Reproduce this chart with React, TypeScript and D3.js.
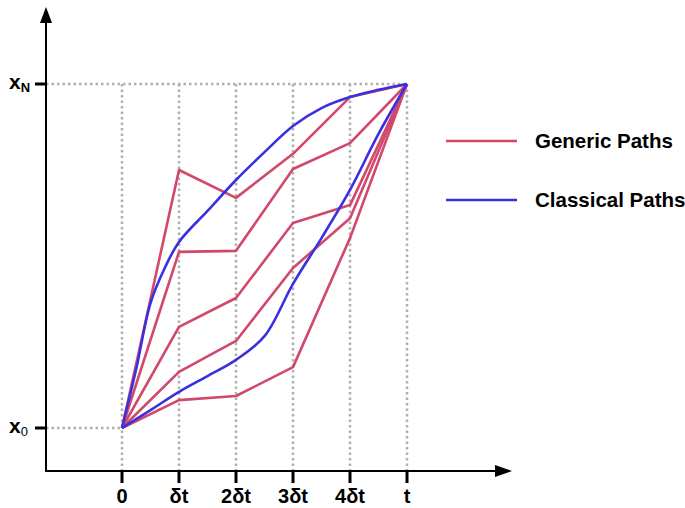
import React from "react";
import * as d3 from "d3";

// Time steps along the horizontal axis (in units of δt)
const steps = [0, 1, 2, 3, 4, 5];
const stepLabels = ["0", "δt", "2δt", "3δt", "4δt", "t"];

// Generic paths: normalised position between x0 (0) and xN (1) at each time step
const genericA = [0, 0.75, 0.669, 0.797, 0.962, 1];
const genericB = [0, 0.512, 0.515, 0.753, 0.828, 1];
const genericC = [0, 0.294, 0.378, 0.596, 0.648, 1];
const genericD = [0, 0.163, 0.253, 0.465, 0.61, 1];
const genericE = [0, 0.081, 0.093, 0.177, 0.552, 1];

// Classical paths are smooth, so they are sampled more finely in time
const classicalATimes = [0, 0.25, 0.5, 0.75, 1, 1.5, 2, 2.5, 3, 3.5, 4, 4.5, 5];
const classicalAValues = [0, 0.172, 0.363, 0.465, 0.541, 0.631, 0.721, 0.802, 0.878, 0.93, 0.962, 0.983, 1];
const classicalBTimes = [0, 0.5, 1, 1.5, 2, 2.5, 3, 3.5, 4, 4.5, 5];
const classicalBValues = [0, 0.052, 0.105, 0.151, 0.198, 0.267, 0.419, 0.552, 0.692, 0.855, 1];

const genericPaths = [genericA, genericB, genericC, genericD, genericE];
const classicalPaths = [
  { t: classicalATimes, v: classicalAValues },
  { t: classicalBTimes, v: classicalBValues },
];

const RED = "#d2486a";
const BLUE = "#3a30e0";
const GRID = "#b0b0b0";
const FONT = "'Liberation Sans', Arial, sans-serif";

const legendItems = [
  { label: "Generic Paths", color: RED },
  { label: "Classical Paths", color: BLUE },
];

export default function App() {
  const W = 685;
  const H = 508;
  const x = d3.scaleLinear().domain([0, 5]).range([122, 407]);
  const y = d3.scaleLinear().domain([0, 1]).range([428, 84]);

  const axisX = 46;
  const axisY = 471;

  const straight = d3
    .line<number>()
    .x((_, i) => x(steps[i]))
    .y((v) => y(v));
  const smooth = d3
    .line<[number, number]>()
    .x((d) => x(d[0]))
    .y((d) => y(d[1]))
    .curve(d3.curveCatmullRom.alpha(0.5));

  return (
    <svg
      width={W}
      height={H}
      style={{ position: "absolute", left: 0, top: 0, background: "#fff" }}
      fontFamily={FONT}
    >
      {/* dotted guides */}
      <g stroke={GRID} strokeWidth={2.5} strokeDasharray="2.5,3" fill="none">
        {steps.map((s) => (
          <line key={s} x1={x(s)} x2={x(s)} y1={y(1)} y2={axisY} />
        ))}
        <line x1={axisX} x2={x(5)} y1={y(1)} y2={y(1)} />
        <line x1={axisX} x2={x(0)} y1={y(0)} y2={y(0)} />
      </g>

      {/* generic paths */}
      <g fill="none" stroke={RED} strokeWidth={2.6} strokeLinejoin="round">
        {genericPaths.map((p, i) => (
          <path key={i} d={straight(p) ?? ""} />
        ))}
      </g>

      {/* classical paths */}
      <g fill="none" stroke={BLUE} strokeWidth={2.6}>
        {classicalPaths.map((p, i) => (
          <path
            key={i}
            d={smooth(p.t.map((t, j) => [t, p.v[j]] as [number, number])) ?? ""}
          />
        ))}
      </g>

      {/* axes */}
      <g stroke="#000" strokeWidth={2}>
        <line x1={axisX} x2={axisX} y1={axisY + 1} y2={20} />
        <line x1={axisX - 1} x2={500} y1={axisY} y2={axisY} />
      </g>
      <path d={`M${axisX},7 L${axisX - 6},23 L${axisX + 6},23 Z`} fill="#000" />
      <path d={`M512,${axisY} L495,${axisY - 6} L495,${axisY + 6} Z`} fill="#000" />

      {/* ticks */}
      <g stroke="#000" strokeWidth={3}>
        {steps.map((s) => (
          <line key={s} x1={x(s)} x2={x(s)} y1={axisY} y2={483} />
        ))}
        <line x1={35} x2={axisX} y1={y(0)} y2={y(0)} />
        <line x1={35} x2={axisX} y1={y(1)} y2={y(1)} />
      </g>
      <g fontSize={20} fontWeight="bold" textAnchor="middle" fill="#000">
        {steps.map((s, i) => (
          <text key={s} x={x(s)} y={503}>
            {stepLabels[i]}
          </text>
        ))}
      </g>

      {/* position labels */}
      <g fontWeight="bold" fill="#000">
        <text x={9} y={y(0) + 5} fontSize={21}>
          x
          <tspan fontSize={13} fontWeight="normal" dy={3}>
            0
          </tspan>
        </text>
        <text x={9} y={y(1) + 5} fontSize={21}>
          x
          <tspan fontSize={13} fontWeight="bold" dy={3}>
            N
          </tspan>
        </text>
      </g>

      {/* legend */}
      <g>
        {legendItems.map((item, i) => (
          <g key={item.label} transform={`translate(446, ${141 + i * 59})`}>
            <line x1={0} x2={71} y1={0} y2={0} stroke={item.color} strokeWidth={2.6} />
            <text x={89} y={7} fontSize={20.5} fontWeight="bold" fill="#000">
              {item.label}
            </text>
          </g>
        ))}
      </g>
    </svg>
  );
}
